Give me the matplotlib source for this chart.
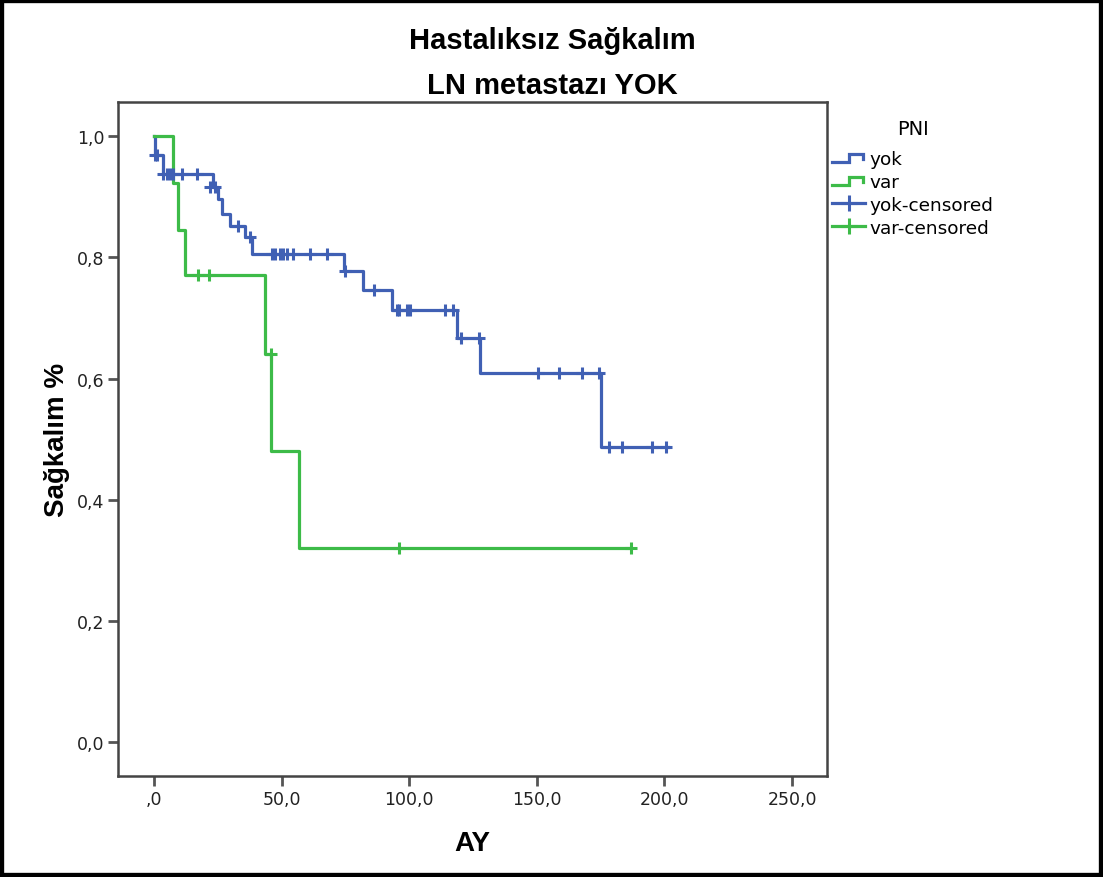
import numpy as np
import matplotlib
matplotlib.use("Agg")
import matplotlib.pyplot as plt
from matplotlib.lines import Line2D
from matplotlib.legend_handler import HandlerBase
from matplotlib.patches import Rectangle

# Kaplan-Meier basamaklari (zaman, sagkalim)
yok_t = [0, 0.3, 3.5, 23.0, 24.9, 26.5, 29.8, 35.7, 38.4, 74.6, 82.0, 93.1, 118.6, 127.7, 175.0, 201.4]
yok_s = [1.0, 0.969, 0.938, 0.916, 0.896, 0.871, 0.852, 0.833, 0.806, 0.778, 0.747, 0.714, 0.667, 0.610, 0.487, 0.487]

var_t = [0, 7.6, 9.5, 12.1, 43.5, 45.7, 56.6, 186.9]
var_s = [1.0, 0.923, 0.846, 0.771, 0.640, 0.480, 0.320, 0.320]

# sansurlu gozlemler
yok_cens_t = [0.4, 1.0, 3.6, 5.0, 6.3, 7.5, 10.8, 16.7, 22.0, 24.0, 32.7, 37.6,
              46.1, 47.4, 49.4, 50.7, 52.0, 54.6, 61.1, 67.7, 74.8, 86.0,
              95.0, 96.0, 99.0, 100.3, 114.0, 117.3, 120.3, 127.5,
              150.6, 158.8, 167.6, 174.5, 178.4, 183.2, 195.0, 200.5]
yok_cens_s = [0.969, 0.969, 0.938, 0.938, 0.938, 0.938, 0.938, 0.938, 0.916, 0.916, 0.852, 0.833,
              0.806, 0.806, 0.806, 0.806, 0.806, 0.806, 0.806, 0.806, 0.778, 0.747,
              0.714, 0.714, 0.714, 0.714, 0.714, 0.714, 0.667, 0.667,
              0.610, 0.610, 0.610, 0.610, 0.487, 0.487, 0.487, 0.487]

var_cens_t = [17.4, 21.7, 45.7, 96.0, 186.9]
var_cens_s = [0.771, 0.771, 0.640, 0.320, 0.320]

x_ticks = [0, 50, 100, 150, 200, 250]
x_labels = [",0", "50,0", "100,0", "150,0", "200,0", "250,0"]
y_ticks = [0.0, 0.2, 0.4, 0.6, 0.8, 1.0]
y_labels = ["0,0", "0,2", "0,4", "0,6", "0,8", "1,0"]

BLUE = "#4060b4"
GREEN = "#3dbb48"
bold_font = ["Liberation Sans", "DejaVu Sans"]
plain_font = ["DejaVu Sans"]


class StepHandler(HandlerBase):
    # ikon: SPSS'teki basamak seklinde cizgi
    def create_artists(self, legend, orig_handle, xdescent, ydescent,
                       width, height, fontsize, trans):
        x0 = -xdescent
        xs = [x0, x0 + width * 0.5, x0 + width * 0.5, x0 + width * 0.93, x0 + width * 0.93]
        ys = [height * 0.15, height * 0.15, height * 0.8, height * 0.8, height * 0.4]
        ln = Line2D(xs, ys, color=orig_handle.get_color(), lw=orig_handle.get_linewidth(),
                    solid_joinstyle="miter")
        ln.set_transform(trans)
        return [ln]


fig = plt.figure(figsize=(11.03, 8.78), dpi=100)
ax = fig.add_axes([0.1073, 0.1150, 0.6425, 0.7673])

h_yok, = ax.step(yok_t, yok_s, where="post", color=BLUE, lw=2.3)
h_var, = ax.step(var_t, var_s, where="post", color=GREEN, lw=2.3)
h_yc, = ax.plot(yok_cens_t, yok_cens_s, ls="none", marker="+", ms=8, mew=2.2, color=BLUE)
h_vc, = ax.plot(var_cens_t, var_cens_s, ls="none", marker="+", ms=8, mew=2.2, color=GREEN)

ax.set_xlim(-14.0, 263.7)
ax.set_ylim(-0.056, 1.056)
ax.set_xticks(x_ticks)
ax.set_xticklabels(x_labels, fontsize=12.5, family=plain_font, color="#222222")
ax.set_yticks(y_ticks)
ax.set_yticklabels(y_labels, fontsize=12.5, family=plain_font, color="#222222")
ax.tick_params(direction="out", length=7, width=2, color="#555555", pad=3)
for sp in ax.spines.values():
    sp.set_linewidth(1.8)
    sp.set_color("#444444")

ax.set_xlabel("AY", fontsize=20, fontweight="bold", family=bold_font, labelpad=16)
ax.set_ylabel("Sağkalım %", fontsize=20, fontweight="bold", family=bold_font, labelpad=5)

fig.text(0.501, 0.953, "Hastalıksız Sağkalım", ha="center", va="center",
         fontsize=21, fontweight="bold", family=bold_font)
fig.text(0.501, 0.902, "LN metastazı YOK", ha="center", va="center",
         fontsize=21, fontweight="bold", family=bold_font)

leg_cens_yok = Line2D([], [], color=BLUE, lw=2.3, marker="+", ms=12, mew=2.2)
leg_cens_var = Line2D([], [], color=GREEN, lw=2.3, marker="+", ms=12, mew=2.2)
leg = fig.legend([h_yok, h_var, leg_cens_yok, leg_cens_var],
                 ["yok", "var", "yok-censored", "var-censored"],
                 title="PNI", loc="upper left", bbox_to_anchor=(0.7543, 0.8635),
                 frameon=False, borderpad=0, borderaxespad=0, handlelength=1.8,
                 handletextpad=0.25, labelspacing=0.26, numpoints=1,
                 prop={"family": plain_font, "size": 13.3},
                 handler_map={h_yok: StepHandler(), h_var: StepHandler()})
leg.get_title().set_fontsize(14)
leg.get_title().set_family(plain_font)
leg._legend_box.sep = 9

fig.patches.append(Rectangle((0, 0), 1, 1, transform=fig.transFigure, fill=False,
                             lw=6, ec="black"))

fig.savefig("out.png", dpi=100)
